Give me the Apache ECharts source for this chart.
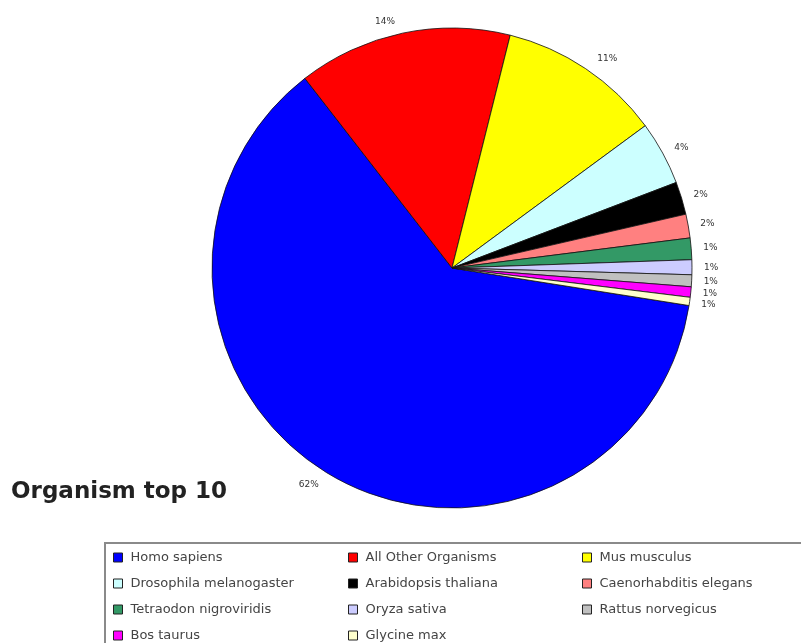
<!DOCTYPE html>
<html>
<head>
<meta charset="utf-8">
<style>
  html, body { margin: 0; padding: 0; background: #fff; }
  #chart { width: 801px; height: 643px; }
</style>
<script src="https://cdn.jsdelivr.net/npm/echarts@6/dist/echarts.min.js"></script>
</head>
<body>
<div id="chart"></div>
<script>
// Share of entries per organism (percent of total)
const organisms = [
  'Homo sapiens', 'All Other Organisms', 'Mus musculus',
  'Drosophila melanogaster', 'Arabidopsis thaliana', 'Caenorhabditis elegans',
  'Tetraodon nigroviridis', 'Oryza sativa', 'Rattus norvegicus',
  'Bos taurus', 'Glycine max'
];
const shares = [62.0, 14.4, 11.0, 4.3, 2.2, 1.6, 1.45, 1.0, 0.8, 0.7, 0.55];
const sliceColors = [
  '#0000FF', '#FF0000', '#FFFF00', '#CCFFFF', '#000000', '#FF8080',
  '#339966', '#CCCCFF', '#C0C0C0', '#FF00FF', '#FFFFCC'
];

// Legend columns (names listed top to bottom in each column)
const legendCol1 = ['Homo sapiens', 'Drosophila melanogaster', 'Tetraodon nigroviridis', 'Bos taurus'];
const legendCol2 = ['All Other Organisms', 'Arabidopsis thaliana', 'Oryza sativa', 'Glycine max'];
const legendCol3 = ['Mus musculus', 'Caenorhabditis elegans', 'Rattus norvegicus'];

const total = shares.reduce((a, b) => a + b, 0);
const pieData = organisms.map((name, i) => ({
  name: name,
  value: shares[i],
  itemStyle: { color: sliceColors[i] }
}));

function makeLegend(names, left) {
  return {
    data: names,
    orient: 'vertical',
    left: left,
    top: 551,
    padding: 0,
    itemGap: 13,
    itemWidth: 9,
    itemHeight: 9,
    icon: 'rect',
    selectedMode: false,
    itemStyle: { borderColor: '#222', borderWidth: 1 },
    textStyle: {
      fontFamily: 'DejaVu Sans',
      fontSize: 13,
      color: '#444',
      padding: [0, 0, 0, 3]
    }
  };
}

const chart = echarts.init(document.getElementById('chart'), null, { renderer: 'canvas' });
chart.setOption({
  backgroundColor: '#ffffff',
  animation: false,
  title: {
    text: 'Organism top 10',
    left: 11,
    top: 481,
    padding: 0,
    textStyle: {
      fontFamily: 'DejaVu Sans',
      fontWeight: 'bold',
      fontSize: 23,
      color: '#222'
    }
  },
  graphic: [{
    type: 'rect',
    left: 104,
    top: 542,
    z: 0,
    shape: { width: 720, height: 120 },
    style: { fill: '#ffffff', stroke: '#8a8a8a', lineWidth: 2 }
  }],
  legend: [
    makeLegend(legendCol1, 113),
    makeLegend(legendCol2, 348),
    makeLegend(legendCol3, 582)
  ],
  series: [{
    type: 'pie',
    center: [452, 268],
    radius: 240,
    startAngle: -9,
    clockwise: true,
    avoidLabelOverlap: true,
    data: pieData,
    itemStyle: { borderColor: '#111', borderWidth: 0.8 },
    label: {
      show: true,
      position: 'outside',
      fontFamily: 'DejaVu Sans',
      fontSize: 9,
      color: '#333',
      formatter: p => Math.round(p.value / total * 100) + '%'
    },
    labelLine: { show: false, length: 12, length2: 0 },
    emphasis: { disabled: true }
  }]
});
</script>
</body>
</html>
